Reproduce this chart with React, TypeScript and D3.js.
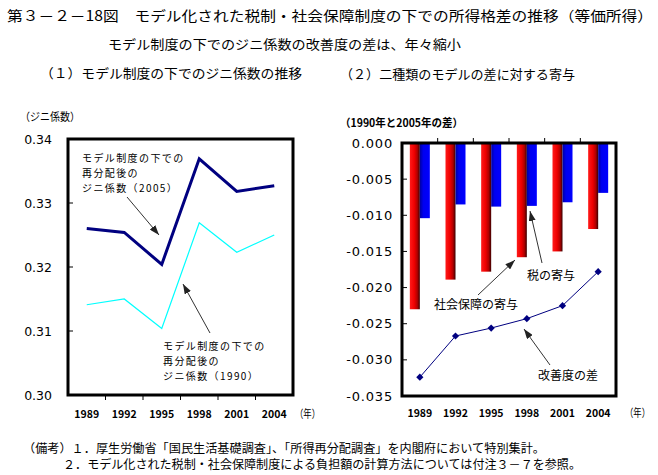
import React from 'react';
import * as d3 from 'd3';

// data
const years = ['1989', '1992', '1995', '1998', '2001', '2004'];
const gini2005 = [0.3260, 0.3254, 0.3204, 0.3369, 0.3318, 0.3327];
const gini1990 = [0.3141, 0.3150, 0.3104, 0.3269, 0.3223, 0.3250];
const socialContribution = [-0.0230, -0.0189, -0.0178, -0.0158, -0.0150, -0.0119];
const taxContribution = [-0.0104, -0.0085, -0.0088, -0.0087, -0.0082, -0.0069];
const improvementDiff = [-0.0324, -0.0267, -0.0256, -0.0243, -0.0225, -0.0178];
const leftTicks = [0.30, 0.31, 0.32, 0.33, 0.34];
const rightTicks = [0, -0.005, -0.01, -0.015, -0.02, -0.025, -0.03, -0.035];

const JP = '"Noto Sans CJK JP", "Noto Sans", sans-serif';
const NUM = '"DejaVu Sans", sans-serif';

const fmt2 = d3.format('.2f');
const fmt3 = (v: number) => d3.format('.3f')(v).replace('\u2212', '-');

const Arrow = ({ x1, y1, x2, y2 }: { x1: number; y1: number; x2: number; y2: number }) => (
    <line x1={x1} y1={y1} x2={x2} y2={y2} stroke="#333" strokeWidth={1} markerEnd="url(#arrowHead)" />
);

const T = ({ x, y, len, size = 13, anchor = 'start', weight = 'normal', spacing, children }: any) => (
    <text x={x} y={y} fontSize={size} fontFamily={JP} fontWeight={weight} textAnchor={anchor}
        letterSpacing={spacing} dominantBaseline="central" textLength={len}
        lengthAdjust={len ? 'spacingAndGlyphs' : undefined}>{children}</text>
);

const LeftChart = () => {
    const x = d3.scaleBand<string>().domain(years).range([68, 293]);
    const y = d3.scaleLinear().domain([0.30, 0.34]).range([395, 139]);
    const cx = (d: string) => (x(d) as number) + x.bandwidth() / 2;
    const line = d3.line<number>().x((_, i) => cx(years[i])).y((d) => y(d));

    return (
        <g>
            <T x={20} y={116} len={60} size={11}>（ジニ係数）</T>
            {leftTicks.map((t) => (
                <g key={t}>
                    <text x={52} y={y(t)} fontSize={12.5} fontFamily={NUM} textAnchor="end" dominantBaseline="central">{fmt2(t)}</text>
                    <line x1={68} x2={73} y1={y(t)} y2={y(t)} stroke="#000" strokeWidth={1} />
                </g>
            ))}
            {years.slice(1).map((d) => (
                <line key={d} x1={x(d)} x2={x(d)} y1={395} y2={400} stroke="#000" strokeWidth={1} />
            ))}
            {years.map((d) => (
                <text key={d} x={cx(d)} y={413} fontSize={10.5} fontWeight="bold" fontFamily={JP} textAnchor="middle" dominantBaseline="central">{d}</text>
            ))}
            <T x={295} y={413} len={25} size={11}>（年）</T>
            <path d={line(gini1990) as string} fill="none" stroke="#00ffff" strokeWidth={1.2} />
            <path d={line(gini2005) as string} fill="none" stroke="#000080" strokeWidth={3} />
            <rect x={68} y={139} width={225} height={256} fill="none" stroke="#000" strokeWidth={3} />

            <T x={82} y={157} size={10} spacing={1.4}>モデル制度の下での</T>
            <T x={82} y={172} size={10} spacing={1.4}>再分配後の</T>
            <T x={82} y={187} size={10} spacing={1.4}>ジニ係数（2005）</T>
            <T x={163} y={345} size={10} spacing={1.4}>モデル制度の下での</T>
            <T x={163} y={360} size={10} spacing={1.4}>再分配後の</T>
            <T x={163} y={375} size={10} spacing={1.4}>ジニ係数（1990）</T>
            <Arrow x1={127} y1={197} x2={159} y2={235} />
            <Arrow x1={210} y1={333} x2={183} y2={284} />
        </g>
    );
};

const RightChart = () => {
    const x = d3.scaleBand<string>().domain(years).range([402, 616]);
    const y = d3.scaleLinear().domain([0, -0.035]).range([143, 396]);
    const inner = d3.scaleBand<string>().domain(['social', 'tax']).range([-10, 10]);
    const cx = (d: string) => (x(d) as number) + x.bandwidth() / 2;
    const line = d3.line<number>().x((_, i) => cx(years[i])).y((d) => y(d));
    const diamond = d3.symbol(d3.symbolSquare, 26)() as string;

    return (
        <g>
            <T x={340} y={122} len={123} size={11} weight="bold">（1990年と2005年の差）</T>
            {rightTicks.map((t) => (
                <g key={t}>
                    <text x={393} y={y(t)} fontSize={13} fontFamily={NUM} letterSpacing={0.8} textAnchor="end" dominantBaseline="central">{fmt3(t)}</text>
                    <line x1={402} x2={407} y1={y(t)} y2={y(t)} stroke="#000" strokeWidth={1} />
                </g>
            ))}
            {years.slice(1).map((d) => (
                <line key={d} x1={x(d)} x2={x(d)} y1={143} y2={138} stroke="#000" strokeWidth={1} />
            ))}
            {years.map((d) => (
                <text key={d} x={cx(d)} y={412} fontSize={10.5} fontWeight="bold" fontFamily={JP} textAnchor="middle" dominantBaseline="central">{d}</text>
            ))}
            <T x={625} y={412} len={25} size={11}>（年）</T>

            {years.map((d, i) => (
                <g key={d}>
                    <rect x={cx(d) + (inner('social') as number)} y={y(0)} width={inner.bandwidth()}
                        height={y(socialContribution[i]) - y(0)} fill="url(#redGrad)" />
                    <rect x={cx(d) + (inner('tax') as number)} y={y(0)} width={inner.bandwidth()}
                        height={y(taxContribution[i]) - y(0)} fill="url(#blueGrad)" />
                </g>
            ))}
            <path d={line(improvementDiff) as string} fill="none" stroke="#000080" strokeWidth={1} />
            {improvementDiff.map((v, i) => (
                <path key={i} d={diamond} transform={`translate(${cx(years[i])},${y(v)}) rotate(45)`} fill="#000080" />
            ))}
            <rect x={402} y={143} width={214} height={253} fill="none" stroke="#000" strokeWidth={3} />

            <T x={527} y={274} size={12}>税の寄与</T>
            <T x={434} y={303} size={12}>社会保障の寄与</T>
            <T x={538} y={374} size={12}>改善度の差</T>
            <Arrow x1={542} y1={263} x2={530} y2={211} />
            <Arrow x1={478} y1={295} x2={515} y2={260} />
            <Arrow x1={550} y1={365} x2={524} y2={329} />
        </g>
    );
};

export default function App() {
    return (
        <svg width={658} height={475} style={{ position: 'absolute', left: 0, top: 0, background: '#fff' }}>
            <defs>
                <linearGradient id="redGrad" x1="0" x2="1" y1="0" y2="0">
                    <stop offset="0%" stopColor="#ff1a1a" />
                    <stop offset="45%" stopColor="#ee0000" />
                    <stop offset="75%" stopColor="#b00000" />
                    <stop offset="100%" stopColor="#3a0000" />
                </linearGradient>
                <linearGradient id="blueGrad" x1="0" x2="1" y1="0" y2="0">
                    <stop offset="0%" stopColor="#0000a0" />
                    <stop offset="35%" stopColor="#0000f0" />
                    <stop offset="100%" stopColor="#0000ff" />
                </linearGradient>
                <marker id="arrowHead" viewBox="0 0 10 7" refX={10} refY={3.5} markerWidth={10} markerHeight={7}
                    markerUnits="userSpaceOnUse" orient="auto">
                    <path d="M0,0 L10,3.5 L0,7 z" fill="#222" />
                </marker>
            </defs>
            <rect width={658} height={475} fill="#fff" />
            <T x={7} y={15} len={646} size={14}>第３－２－18図　モデル化された税制・社会保障制度の下での所得格差の推移（等価所得）</T>
            <T x={108} y={43} len={353} size={13}>モデル制度の下でのジニ係数の改善度の差は、年々縮小</T>
            <T x={40} y={72} len={262} size={13}>（１）モデル制度の下でのジニ係数の推移</T>
            <T x={340} y={73} len={235} size={13}>（２）二種類のモデルの差に対する寄与</T>
            <LeftChart />
            <RightChart />
            <T x={23} y={447} len={522} size={12}>（備考）１．厚生労働省「国民生活基礎調査」、「所得再分配調査」を内閣府において特別集計。</T>
            <T x={63} y={463} len={518} size={12}>２．モデル化された税制・社会保障制度による負担額の計算方法については付注３－７を参照。</T>
        </svg>
    );
}
